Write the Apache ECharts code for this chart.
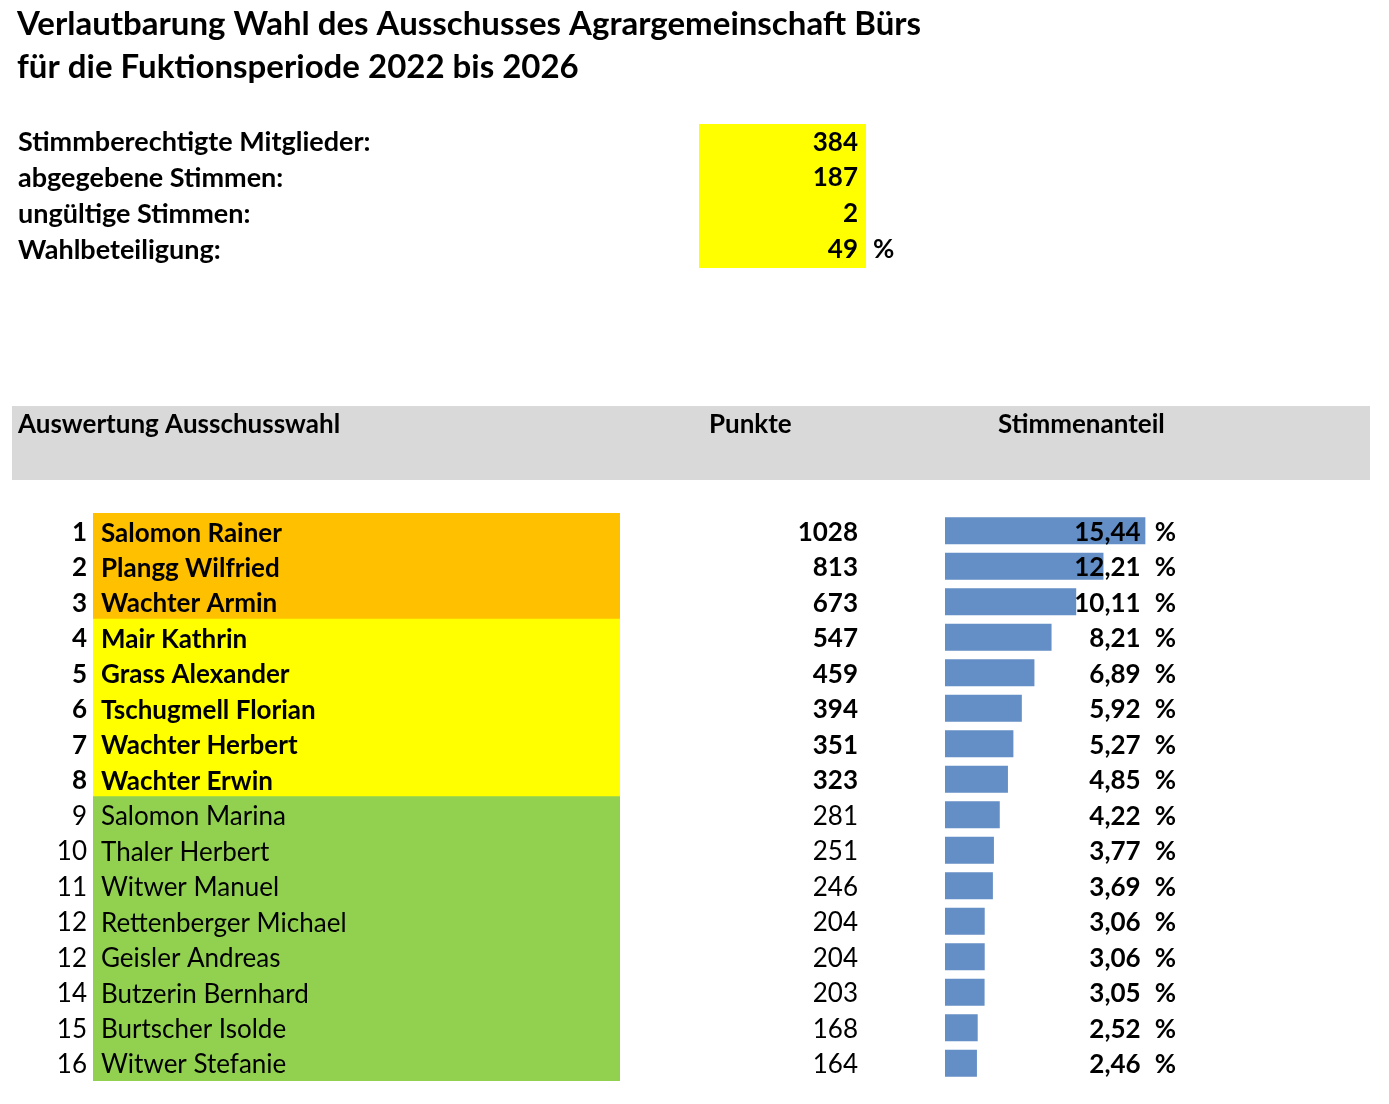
<!DOCTYPE html>
<html>
<head>
<meta charset="utf-8">
<script src="https://cdn.jsdelivr.net/npm/echarts@6/dist/echarts.min.js"></script>
<style>
html, body { margin: 0; padding: 0; background: #fff; }
#main { width: 1389px; height: 1104px; }
</style>
</head>
<body>
<div id="main"></div>
<script>
// Werte aus der Verlautbarung
var titleLines = ['Verlautbarung Wahl des Ausschusses Agrargemeinschaft Bürs', 'für die Fuktionsperiode 2022 bis 2026'];
var statLabels = ['Stimmberechtigte Mitglieder:', 'abgegebene Stimmen:', 'ungültige Stimmen:', 'Wahlbeteiligung:'];
var statValues = [384, 187, 2, 49];
var statUnits = ['', '', '', '%'];
var headerLabels = ['Auswertung Ausschusswahl', 'Punkte', 'Stimmenanteil'];
var ranks = [1, 2, 3, 4, 5, 6, 7, 8, 9, 10, 11, 12, 12, 14, 15, 16];
var names = ['Salomon Rainer', 'Plangg Wilfried', 'Wachter Armin', 'Mair Kathrin', 'Grass Alexander',
    'Tschugmell Florian', 'Wachter Herbert', 'Wachter Erwin', 'Salomon Marina', 'Thaler Herbert',
    'Witwer Manuel', 'Rettenberger Michael', 'Geisler Andreas', 'Butzerin Bernhard', 'Burtscher Isolde',
    'Witwer Stefanie'];
var points = [1028, 813, 673, 547, 459, 394, 351, 323, 281, 251, 246, 204, 204, 203, 168, 164];
var shares = [15.44, 12.21, 10.11, 8.21, 6.89, 5.92, 5.27, 4.85, 4.22, 3.77, 3.69, 3.06, 3.06, 3.05, 2.52, 2.46];
var groups = [0, 0, 0, 1, 1, 1, 1, 1, 2, 2, 2, 2, 2, 2, 2, 2];
var groupColors = ['#FFC000', '#FFFF00', '#92D050'];

var FONT = 'Lato';
var FS = 26;

var chart = echarts.init(document.getElementById('main'));

function isBold(i) { return groups[i] < 2; }
function fmtShare(v) { return v.toFixed(2).replace('.', ','); }

// padding oben schiebt den Text etwas nach unten wie in Excel
var rich = {
    b: { fontFamily: FONT, fontSize: FS, fontWeight: 'bold', color: '#000', padding: [3, 0, 0, 0] },
    r: { fontFamily: FONT, fontSize: FS, fontWeight: 'normal', color: '#000', padding: [3, 0, 0, 0] },
    p: { fontFamily: FONT, fontSize: FS, fontWeight: 'bold', color: '#000', padding: [3, 0, 0, 14] }
};
var hidden = { show: false };
var TF = 'bold 33px ' + FONT;
var HF = 'bold ' + FS + 'px ' + FONT;

var option = {
    backgroundColor: '#fff',
    animation: false,
    graphic: [
        { type: 'text', left: 17, top: 8, style: { text: titleLines[0], font: TF, fill: '#000' } },
        { type: 'text', left: 17, top: 51, style: { text: titleLines[1], font: TF, fill: '#000' } },
        { type: 'rect', shape: { x: 12, y: 406, width: 1358, height: 74 }, style: { fill: '#D9D9D9' }, z: -10 },
        { type: 'text', left: 18, top: 412, style: { text: headerLabels[0], font: HF, fill: '#000' } },
        { type: 'text', left: 709, top: 412, style: { text: headerLabels[1], font: HF, fill: '#000' } },
        { type: 'text', left: 998, top: 412, style: { text: headerLabels[2], font: HF, fill: '#000' } }
    ],
    grid: [
        { left: 699, top: 124, width: 167, height: 144 },   // Kennzahlen
        { left: 93, top: 513, width: 527, height: 568 },    // Namen
        { left: 945, top: 513, width: 231, height: 568 }    // Stimmenanteil
    ],
    xAxis: [
        { gridIndex: 0, type: 'value', min: 0, max: 1, show: false },
        { gridIndex: 1, type: 'value', min: 0, max: 1, show: false },
        { gridIndex: 2, type: 'value', min: 0, max: 17.8, show: false }
    ],
    yAxis: [
        {
            gridIndex: 0, type: 'category', inverse: true, data: statLabels,
            axisLine: hidden, axisTick: hidden, splitLine: hidden,
            axisLabel: { align: 'left', margin: 681, fontFamily: FONT, fontSize: 27, fontWeight: 'bold', color: '#000' }
        },
        {
            gridIndex: 0, type: 'category', inverse: true, position: 'right', data: statUnits,
            axisLine: hidden, axisTick: hidden, splitLine: hidden,
            axisLabel: { align: 'left', margin: 7, fontFamily: FONT, fontSize: FS, fontWeight: 'bold', color: '#000' }
        },
        {
            gridIndex: 1, type: 'category', inverse: true, data: names,
            axisLine: hidden, axisTick: hidden, splitLine: hidden,
            axisLabel: {
                margin: 6, align: 'right', rich: rich,
                formatter: function (v, i) { return '{' + (isBold(i) ? 'b' : 'r') + '|' + ranks[i] + '}'; }
            }
        },
        {
            gridIndex: 1, type: 'category', inverse: true, position: 'right', data: names,
            axisLine: hidden, axisTick: hidden, splitLine: hidden,
            axisLabel: {
                margin: 238, align: 'right', rich: rich,
                formatter: function (v, i) { return '{' + (isBold(i) ? 'b' : 'r') + '|' + points[i] + '}'; }
            }
        },
        {
            gridIndex: 2, type: 'category', inverse: true, position: 'right', data: names, z: 10,
            axisLine: hidden, axisTick: hidden, splitLine: hidden,
            axisLabel: {
                margin: 0, align: 'right', rich: rich,
                formatter: function (v, i) { return '{b|' + fmtShare(shares[i]) + '}{p|%}'; }
            }
        }
    ],
    series: [
        {
            // gelbes Feld, Balken etwas breiter als die Zeile damit keine Fugen bleiben
            type: 'bar', xAxisIndex: 0, yAxisIndex: 0, barWidth: 37.5, silent: true,
            itemStyle: { color: '#FFFF00' },
            data: statValues.map(function () { return 1; }),
            label: {
                show: true, position: 'insideRight', distance: 8,
                fontFamily: FONT, fontSize: FS, fontWeight: 'bold', color: '#000',
                formatter: function (p) { return statValues[p.dataIndex]; }
            }
        },
        {
            type: 'bar', xAxisIndex: 1, yAxisIndex: 2, barWidth: 37, silent: true,
            data: names.map(function (n, i) {
                return {
                    value: 1,
                    itemStyle: { color: groupColors[groups[i]] },
                    label: { fontWeight: isBold(i) ? 'bold' : 'normal' }
                };
            }),
            label: {
                show: true, position: 'insideLeft', distance: 8, offset: [0, 2],
                fontFamily: FONT, fontSize: FS, color: '#000',
                formatter: function (p) { return names[p.dataIndex]; }
            }
        },
        {
            type: 'bar', xAxisIndex: 2, yAxisIndex: 4, barWidth: 27, silent: true,
            itemStyle: { color: '#638EC6' },
            data: shares
        }
    ]
};

chart.setOption(option);
</script>
</body>
</html>
